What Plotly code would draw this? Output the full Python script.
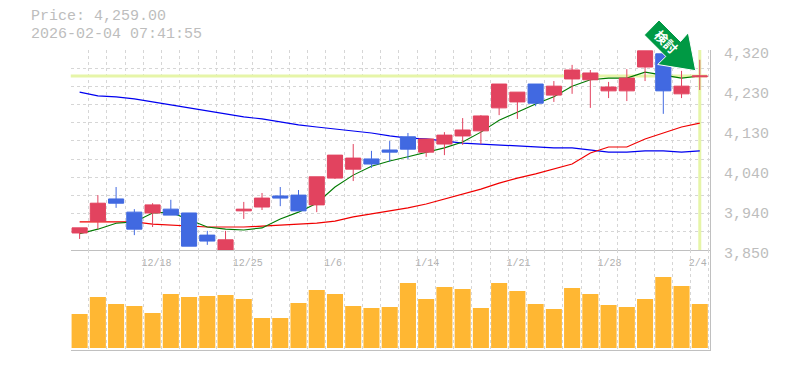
import plotly.graph_objects as go

# ---- data ----
dates_labels = ["12/18", "12/25", "1/6", "1/14", "1/21", "1/28", "2/4"]
dates_index = [4, 9, 14, 19, 24, 29, 34]

opens = [3890, 3918, 3970, 3939, 3937, 3946, 3937, 3885, 3850, 3942, 3951, 3977, 3979, 3956, 4019, 4040, 4064, 4085,
         4116, 4080, 4099, 4118, 4130, 4184, 4198, 4240, 4214, 4252, 4250, 4224, 4224, 4280, 4311, 4217, 4257]
highs = [3902, 3979, 3998, 3946, 3960, 3968, 3937, 3895, 3895, 3963, 3984, 3998, 3991, 4022, 4073, 4099, 4083, 4106,
         4125, 4111, 4127, 4160, 4167, 4240, 4221, 4240, 4247, 4285, 4273, 4245, 4275, 4318, 4311, 4271, 4297]
lows = [3876, 3899, 3949, 3885, 3904, 3932, 3859, 3862, 3850, 3923, 3944, 3953, 3942, 3939, 4017, 4012, 4043, 4057,
        4064, 4069, 4073, 4097, 4099, 4167, 4158, 4188, 4198, 4217, 4184, 4207, 4200, 4247, 4170, 4207, 4226]
closes = [3902, 3960, 3960, 3899, 3956, 3932, 3859, 3871, 3874, 3946, 3972, 3972, 3942, 4022, 4073, 4066, 4052, 4080,
          4087, 4111, 4120, 4132, 4165, 4240, 4221, 4195, 4235, 4273, 4266, 4233, 4254, 4318, 4224, 4235, 4259]

ma_short = [3888, 3899, 3913, 3916, 3937, 3939, 3921, 3904, 3899, 3897, 3902, 3923, 3939, 3960, 3998, 4026, 4047, 4059,
            4069, 4080, 4090, 4104, 4127, 4155, 4174, 4193, 4210, 4235, 4250, 4254, 4254, 4268, 4261, 4254, 4259]
ma_mid = [3916, 3916, 3916, 3916, 3911, 3909, 3906, 3904, 3904, 3904, 3906, 3909, 3911, 3913, 3918, 3928, 3935, 3942,
          3949, 3958, 3970, 3982, 3993, 4007, 4019, 4029, 4040, 4052, 4078, 4092, 4092, 4111, 4125, 4139, 4148]
ma_long = [4221, 4212, 4210, 4205, 4198, 4191, 4184, 4177, 4170, 4163, 4158, 4151, 4144, 4139, 4134, 4130, 4125, 4118,
           4113, 4111, 4106, 4101, 4099, 4097, 4094, 4092, 4090, 4090, 4085, 4080, 4080, 4083, 4083, 4080, 4083]

volumes = [34, 51, 44, 42, 35, 54, 51, 52, 53, 49, 30, 30, 45, 58, 54, 42, 40, 41, 65, 49, 61, 59, 40, 65, 57, 44, 39,
           60, 54, 43, 41, 49, 71, 62, 44]

price_now = 4259.00
title_lines = ["Price: 4,259.00", "2026-02-04 07:41:55"]
price_tick_vals = [4320, 4226, 4132, 4038, 3944, 3850]
price_tick_text = ["4,320", "4,230", "4,130", "4,040", "3,940", "3,850"]
badge_text = "検討"

# ---- style / layout ----
PAGE_MARGIN = 8  # default body margin of the written page
W, H = 785 - PAGE_MARGIN, 370 - PAGE_MARGIN
STEP = 18.24
LEFT, RIGHT = 70.5, 710
TOP, MID, BOT = 50, 250, 350
GRID = "#d6d6d6"
AXIS = "#c0c0c0"
TXT = "#bdbdbd"
PALE = "#E6F5A8"
UP = "#E2435F"
DOWN = "#4169E1"
MONO = "Liberation Mono, monospace"


def px(x):
    return (x - PAGE_MARGIN) / W


def py(y):
    return 1 - (y - PAGE_MARGIN) / H


xs = list(range(len(closes)))
x_range = [-0.5, (RIGHT - LEFT) / STEP - 0.5]
x_domain = [px(LEFT), px(RIGHT)]
grid_x = [k - 0.5 for k in range(36)]
price_range = [3850, 4320]
grid_y = [4320 - (4320 - 3850) * k / 11 for k in range(12)]
# labels start at a fixed offset from the candle, so their centres shift with their length
date_ticks = [i + (len(t) * 3 - 11) / STEP for i, t in zip(dates_index, dates_labels)]

fig = go.Figure()

# background reference lines and moving averages on the base price axes
fig.add_trace(go.Scatter(x=[-0.5, 34.4], y=[price_now, price_now], mode="lines", line=dict(color=PALE, width=3),
                         hoverinfo="skip"))
fig.add_trace(go.Scatter(x=[xs[-1], xs[-1]], y=price_range, mode="lines", line=dict(color=PALE, width=3),
                         hoverinfo="skip"))
fig.add_trace(go.Scatter(x=xs, y=ma_long, mode="lines", line=dict(color="#0000F0", width=1.2)))
fig.add_trace(go.Scatter(x=xs, y=ma_mid, mode="lines", line=dict(color="#F00000", width=1.2)))
fig.add_trace(go.Scatter(x=xs, y=ma_short, mode="lines", line=dict(color="#007A00", width=1.1)))

# candles on an overlaid subplot so that they sit above the lines
fig.add_trace(go.Candlestick(x=xs, open=opens, high=highs, low=lows, close=closes, xaxis="x2", yaxis="y2",
                             whiskerwidth=0, line=dict(width=1),
                             increasing=dict(line=dict(color=UP, width=1), fillcolor=UP),
                             decreasing=dict(line=dict(color=DOWN, width=1), fillcolor=DOWN)))

fig.add_trace(go.Bar(x=xs, y=volumes, xaxis="x3", yaxis="y3", width=0.88, marker=dict(color="#FFB733", line_width=0)))

grid_axis = dict(showgrid=True, gridcolor=GRID, griddash="3px,3px", gridwidth=1, zeroline=False, automargin=False)

head = [(659, 20), (644.3, 35), (665.8, 56.5), (657.7, 64.5), (695.7, 70.7), (688.3, 32.7), (680.5, 41.5)]
arrow_path = "M " + " L ".join(f"{px(a):.5f},{py(b):.5f}" for a, b in head) + " Z"

fig.update_layout(
    width=W, height=H, autosize=False, margin=dict(l=0, r=0, t=0, b=0),
    paper_bgcolor="white", plot_bgcolor="white", showlegend=False, boxgap=0.17, boxgroupgap=0, bargap=0.12,
    xaxis=dict(domain=x_domain, range=x_range, tickmode="array", tickvals=grid_x, showticklabels=False, ticks="",
               anchor="y", **grid_axis),
    yaxis=dict(domain=[py(MID), py(TOP)], range=price_range, tickmode="array", tickvals=grid_y,
               showticklabels=False, ticks="", anchor="x", **grid_axis),
    xaxis2=dict(domain=x_domain, range=x_range, overlaying="x", anchor="y2", side="bottom", tickmode="array",
                tickvals=date_ticks, ticktext=dates_labels, showgrid=False, zeroline=False, ticks="outside",
                ticklen=3, tickcolor="rgba(0,0,0,0)", tickfont=dict(family=MONO, size=10, color="#b0b0b0"),
                showline=True, linecolor=AXIS, linewidth=1, rangeslider=dict(visible=False), automargin=False),
    yaxis2=dict(domain=[py(MID), py(TOP)], range=price_range, overlaying="y", anchor="x2", side="right",
                tickmode="array", tickvals=price_tick_vals, ticktext=price_tick_text, showgrid=False,
                zeroline=False, ticks="", tickfont=dict(family=MONO, size=15, color=TXT), ticklabelstandoff=10,
                ticklabelshift=3, showline=True, linecolor=AXIS, linewidth=1, automargin=False),
    xaxis3=dict(domain=x_domain, range=x_range, tickmode="array", tickvals=grid_x, showticklabels=False, ticks="",
                anchor="y3", showline=True, linecolor=AXIS, linewidth=1, **grid_axis),
    yaxis3=dict(domain=[py(BOT), py(MID)], range=[-2, 98], side="right", anchor="x3", showgrid=False, zeroline=False,
                showticklabels=False, ticks="", showline=True, linecolor=AXIS, linewidth=1, automargin=False),
    shapes=[dict(type="path", xref="paper", yref="paper", path=arrow_path, fillcolor="#009944",
                 line=dict(color="white", width=1), layer="above")],
    annotations=[
        dict(xref="paper", yref="paper", x=px(30), y=py(17), text=title_lines[0], showarrow=False, xanchor="left",
             yanchor="middle", borderpad=0, font=dict(family=MONO, size=15, color=TXT)),
        dict(xref="paper", yref="paper", x=px(30), y=py(34), text=title_lines[1], showarrow=False, xanchor="left",
             yanchor="middle", borderpad=0, font=dict(family=MONO, size=15, color=TXT)),
        dict(xref="paper", yref="paper", x=px(666), y=py(42), text=badge_text, showarrow=False, textangle=45,
             xanchor="center", yanchor="middle",
             font=dict(family="Noto Sans CJK JP", size=13, color="white", weight="bold")),
    ],
)

fig.write_html("out.html")
